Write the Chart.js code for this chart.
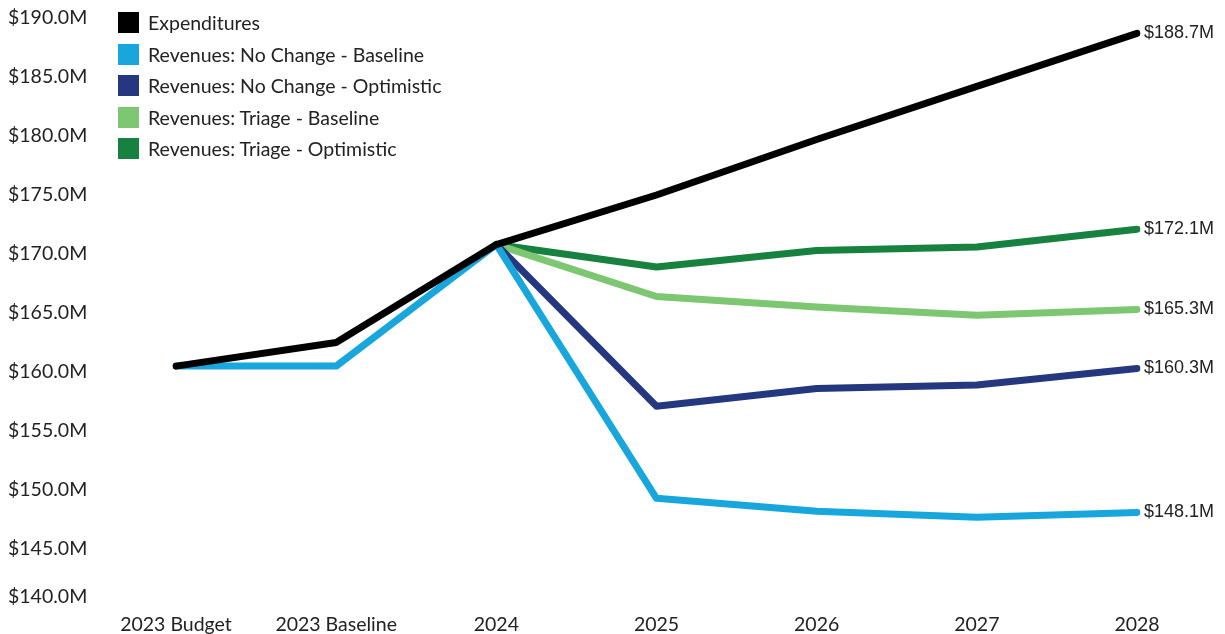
<!DOCTYPE html>
<html>
<head>
<meta charset="utf-8">
<script src="https://cdn.jsdelivr.net/npm/chart.js@4.4.1/dist/chart.umd.min.js"></script>
<style>
    html, body { margin: 0; padding: 0; background: #fff; }
    #wrap { position: relative; width: 1225px; height: 634px; }
    #legend {
        position: absolute; left: 118px; top: 7px;
        font-family: 'Lato', sans-serif; font-size: 19.5px; color: #222;
    }
    #legend .row { display: flex; align-items: center; height: 31.5px; }
    #legend .sw { width: 21px; height: 21px; margin-right: 9px; }
</style>
</head>
<body>
<div id="wrap">
    <canvas id="chart" width="1225" height="634"></canvas>
    <div id="legend"></div>
</div>
<script>
/* categories and series values ($M) */
const categories = ['2023 Budget', '2023 Baseline', '2024', '2025', '2026', '2027', '2028'];

const expenditures       = [160.5, 162.5, 170.8, 175.0, 179.7, 184.2, 188.7];
const noChangeBaseline   = [160.5, 160.5, 170.8, 149.3, 148.2, 147.7, 148.1];
const noChangeOptimistic = [null, null, 170.8, 157.1, 158.6, 158.9, 160.3];
const triageBaseline     = [null, null, 170.8, 166.4, 165.5, 164.8, 165.3];
const triageOptimistic   = [null, null, 170.8, 168.9, 170.3, 170.6, 172.1];

const yTicks = [140, 145, 150, 155, 160, 165, 170, 175, 180, 185, 190];

const seriesNames = [
    'Expenditures',
    'Revenues: No Change - Baseline',
    'Revenues: No Change - Optimistic',
    'Revenues: Triage - Baseline',
    'Revenues: Triage - Optimistic',
];
const seriesColors = ['#000000', '#18a7dd', '#25377f', '#7dc672', '#178140'];
const seriesData = [expenditures, noChangeBaseline, noChangeOptimistic, triageBaseline, triageOptimistic];

/* legend (HTML overlay) */
const legendEl = document.getElementById('legend');
seriesNames.forEach((name, i) => {
    const row = document.createElement('div');
    row.className = 'row';
    row.innerHTML = `<span class="sw" style="background:${seriesColors[i]}"></span><span>${name}</span>`;
    legendEl.appendChild(row);
});

/* label at the end of each line */
const endLabels = {
    id: 'endLabels',
    afterDatasetsDraw(chart) {
        const ctx = chart.ctx;
        ctx.save();
        ctx.font = "18px 'Liberation Sans', Arial, sans-serif";
        ctx.fillStyle = '#222';
        ctx.textBaseline = 'middle';
        chart.data.datasets.forEach((ds, i) => {
            const meta = chart.getDatasetMeta(i);
            const last = meta.data[meta.data.length - 1];
            const v = ds.data[ds.data.length - 1];
            ctx.fillText('$' + v.toFixed(1) + 'M', last.x + 7, last.y);
        });
        ctx.restore();
    },
};

// order: expenditures drawn last so it sits on top
const datasets = seriesData.map((data, i) => ({
    label: seriesNames[i],
    data,
    borderColor: seriesColors[i],
    backgroundColor: seriesColors[i],
    borderWidth: 7,
    borderCapStyle: 'round',
    borderJoinStyle: 'round',
    pointRadius: 0,
    tension: 0,
    order: i,
}));

new Chart(document.getElementById('chart'), {
    type: 'line',
    data: { labels: categories, datasets },
    plugins: [endLabels],
    options: {
        responsive: false,
        animation: false,
        events: [],
        layout: { padding: { left: 8, right: 88, top: 18, bottom: 0 } },
        plugins: {
            legend: { display: false },
            tooltip: { enabled: false },
        },
        scales: {
            x: {
                offset: false,
                afterFit(scale) { scale.height = 26; },
                grid: { display: false, drawTicks: false },
                border: { display: false },
                ticks: {
                    font: { family: "'Lato', sans-serif", size: 19.5 },
                    color: '#222',
                    padding: 5,
                    maxRotation: 0,
                    autoSkip: false,
                },
            },
            y: {
                min: 140,
                max: 190,
                afterBuildTicks(scale) {
                    scale.ticks = yTicks.map(v => ({ value: v }));
                },
                afterFit(scale) { scale.width = 168; },
                grid: { display: false, drawTicks: false },
                border: { display: false },
                ticks: {
                    font: { family: "'Lato', sans-serif", size: 19.5 },
                    color: '#222',
                    crossAlign: 'far',
                    padding: 0,
                    // bottom label sits a bit above its tick (empty 2nd line lifts it)
                    callback: v => {
                        const s = '$' + Number(v).toFixed(1) + 'M';
                        return v === 140 ? [s, ''] : s;
                    },
                },
            },
        },
    },
});
</script>
</body>
</html>
